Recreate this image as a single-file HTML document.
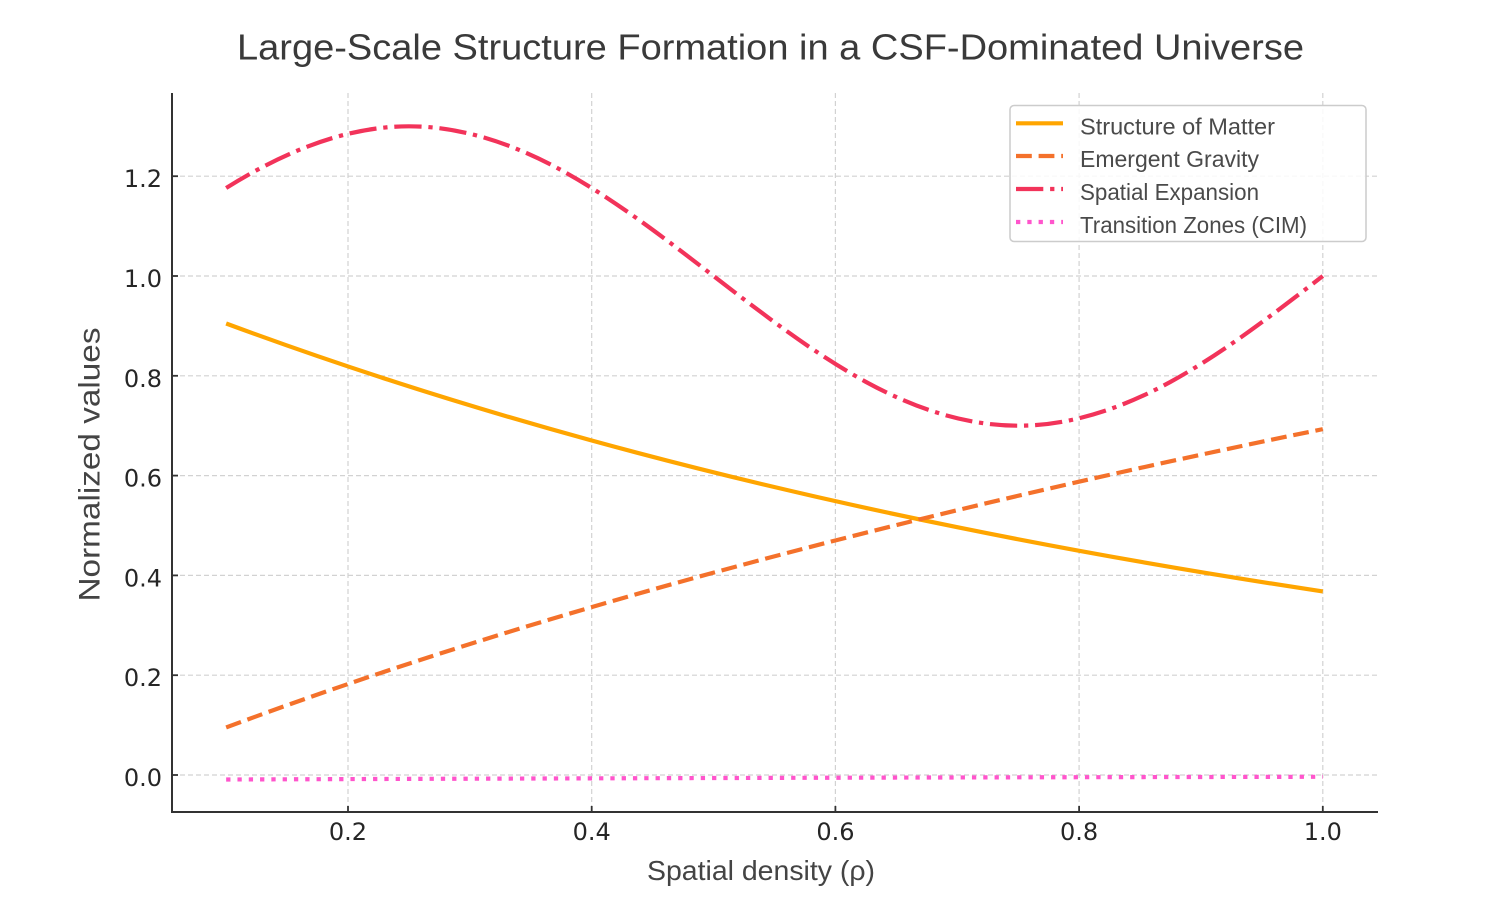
<!DOCTYPE html>
<html>
<head>
<meta charset="utf-8">
<style>
  html, body { margin: 0; padding: 0; background: #ffffff; }
  svg { display: block; }
</style>
</head>
<body>
<svg width="1500" height="900" viewBox="0 0 1500 900" xmlns="http://www.w3.org/2000/svg">
  <rect x="0" y="0" width="1500" height="900" fill="#ffffff"/>

  <!-- Title -->
  <text x="237" y="59.5" font-family="Liberation Sans, Arial, sans-serif" font-size="36" fill="#3a3a3a" textLength="1067" lengthAdjust="spacingAndGlyphs">Large-Scale Structure Formation in a CSF-Dominated Universe</text>

  <!-- Grid -->
  <g stroke="#d2d2d2" stroke-width="1.2" stroke-dasharray="5 3" fill="none">
    <line x1="348" y1="93" x2="348" y2="812"/>
    <line x1="591.7" y1="93" x2="591.7" y2="812"/>
    <line x1="835.4" y1="93" x2="835.4" y2="812"/>
    <line x1="1079.1" y1="93" x2="1079.1" y2="812"/>
    <line x1="1322.8" y1="93" x2="1322.8" y2="812"/>
    <line x1="172" y1="775" x2="1378" y2="775"/>
    <line x1="172" y1="675.2" x2="1378" y2="675.2"/>
    <line x1="172" y1="575.4" x2="1378" y2="575.4"/>
    <line x1="172" y1="475.6" x2="1378" y2="475.6"/>
    <line x1="172" y1="375.8" x2="1378" y2="375.8"/>
    <line x1="172" y1="276" x2="1378" y2="276"/>
    <line x1="172" y1="176.2" x2="1378" y2="176.2"/>
  </g>

  <!-- Series -->
  <!-- Structure of Matter: exp(-rho) -->
  <path d="M226.15,323.49 C348.0,368.64 469.85,407.06 591.7,440.51 C713.55,473.96 835.4,502.42 957.25,527.20 C1079.1,551.98 1200.95,573.07 1322.8,591.43"
        fill="none" stroke="#FFA500" stroke-width="4.2"/>
  <!-- Emergent Gravity: ln(1+rho) -->
  <path d="M226.15,727.44 C348.0,682.08 469.85,642.74 591.7,607.10 C713.55,571.46 835.4,539.57 957.25,510.22 C1079.1,480.87 1200.95,454.07 1322.8,429.12"
        fill="none" stroke="#F4712B" stroke-width="4.2" stroke-dasharray="15.8 6.8"/>
  <!-- Spatial Expansion: 1 + 0.3 sin(2 pi rho) -->
  <path d="M226.15,188.01 C287.08,149.96 348.0,126.3 408.93,126.3 C459.70,126.3 510.47,142.44 561.24,170.15 C612.01,197.86 662.78,236.81 713.55,276 C764.32,315.19 815.09,354.14 865.86,381.85 C916.63,409.56 967.41,425.7 1018.18,425.7 C1068.95,425.7 1119.72,409.56 1170.49,381.85 C1221.26,354.14 1272.03,315.19 1322.8,276"
        fill="none" stroke="#F2335A" stroke-width="4.2" stroke-dasharray="27.3 6.8 4.3 6.8"/>
  <!-- Transition Zones (CIM) -->
  <path d="M226.15,779.5 Q774.5,777.6 1322.8,776.8"
        fill="none" stroke="#FF55CC" stroke-width="4.2" stroke-dasharray="4.3 7.0"/>

  <!-- Spines -->
  <g stroke="#333333" stroke-width="2" fill="none">
    <line x1="172" y1="93" x2="172" y2="813"/>
    <line x1="171" y1="812" x2="1378" y2="812"/>
  </g>

  <!-- Ticks (inward) -->
  <g stroke="#333333" stroke-width="1.8">
    <line x1="348" y1="812" x2="348" y2="806"/>
    <line x1="591.7" y1="812" x2="591.7" y2="806"/>
    <line x1="835.4" y1="812" x2="835.4" y2="806"/>
    <line x1="1079.1" y1="812" x2="1079.1" y2="806"/>
    <line x1="1322.8" y1="812" x2="1322.8" y2="806"/>
    <line x1="172" y1="775" x2="178" y2="775"/>
    <line x1="172" y1="675.2" x2="178" y2="675.2"/>
    <line x1="172" y1="575.4" x2="178" y2="575.4"/>
    <line x1="172" y1="475.6" x2="178" y2="475.6"/>
    <line x1="172" y1="375.8" x2="178" y2="375.8"/>
    <line x1="172" y1="276" x2="178" y2="276"/>
    <line x1="172" y1="176.2" x2="178" y2="176.2"/>
  </g>

  <!-- X tick labels -->
  <g font-family="DejaVu Sans, sans-serif" font-size="24" fill="#262626" text-anchor="middle">
    <text x="348" y="840">0.2</text>
    <text x="591.7" y="840">0.4</text>
    <text x="835.4" y="840">0.6</text>
    <text x="1079.1" y="840">0.8</text>
    <text x="1322.8" y="840">1.0</text>
  </g>

  <!-- Y tick labels -->
  <g font-family="DejaVu Sans, sans-serif" font-size="24" fill="#262626" text-anchor="end">
    <text x="162" y="786">0.0</text>
    <text x="162" y="686.2">0.2</text>
    <text x="162" y="586.4">0.4</text>
    <text x="162" y="486.6">0.6</text>
    <text x="162" y="386.8">0.8</text>
    <text x="162" y="287">1.0</text>
    <text x="162" y="187.2">1.2</text>
  </g>

  <!-- Axis labels -->
  <text x="647" y="880" font-family="Liberation Sans, Arial, sans-serif" font-size="28" fill="#444444" textLength="228" lengthAdjust="spacingAndGlyphs">Spatial density (ρ)</text>
  <text transform="translate(99.5,601.5) rotate(-90)" x="0" y="0" font-family="Liberation Sans, Arial, sans-serif" font-size="30" fill="#444444" textLength="274" lengthAdjust="spacingAndGlyphs">Normalized values</text>

  <!-- Legend -->
  <rect x="1010" y="105.5" width="356" height="136" rx="4" ry="4" fill="#ffffff" fill-opacity="0.85" stroke="#cccccc" stroke-width="1.5"/>
  <line x1="1016" y1="123.3" x2="1063" y2="123.3" stroke="#FFA500" stroke-width="4.2"/>
  <line x1="1016" y1="156" x2="1063" y2="156" stroke="#F4712B" stroke-width="4.2" stroke-dasharray="15.8 6.8"/>
  <line x1="1016" y1="189" x2="1063" y2="189" stroke="#F2335A" stroke-width="4.2" stroke-dasharray="27.3 6.8 4.3 6.8"/>
  <line x1="1016" y1="222" x2="1063" y2="222" stroke="#FF55CC" stroke-width="4.2" stroke-dasharray="4.3 7.0"/>
  <g font-family="Liberation Sans, Arial, sans-serif" font-size="23" fill="#4a4a4a">
    <text x="1080" y="134.3" textLength="195" lengthAdjust="spacingAndGlyphs">Structure of Matter</text>
    <text x="1080" y="167" textLength="179" lengthAdjust="spacingAndGlyphs">Emergent Gravity</text>
    <text x="1080" y="200" textLength="179" lengthAdjust="spacingAndGlyphs">Spatial Expansion</text>
    <text x="1080" y="233" textLength="227" lengthAdjust="spacingAndGlyphs">Transition Zones (CIM)</text>
  </g>
</svg>
</body>
</html>
